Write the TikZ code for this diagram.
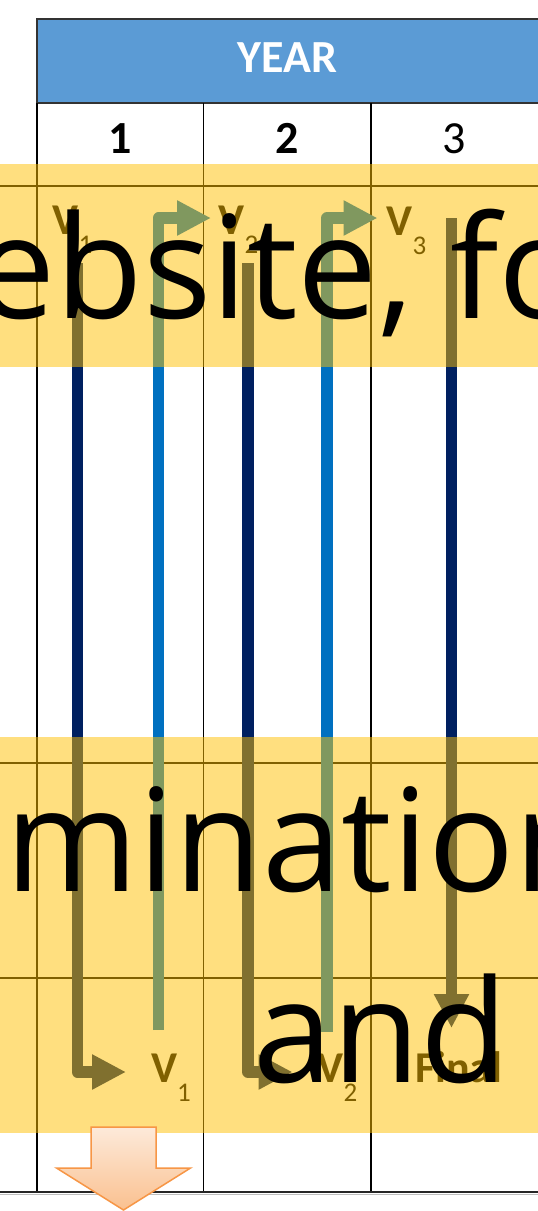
\documentclass[tikz,border=0pt]{standalone}
\usepackage{fontspec}
\setmainfont{Carlito}
\newfontfamily\bigfont{Open Sans}
\usetikzlibrary{arrows.meta}
\definecolor{navy}{HTML}{002060}
\definecolor{midblue}{HTML}{0070C0}
\definecolor{headblue}{HTML}{5B9BD5}
\definecolor{hiyellow}{HTML}{FFC000}
\definecolor{orangeline}{HTML}{F79646}
\definecolor{peachtop}{HTML}{FDEADA}
\definecolor{peachbot}{HTML}{FAC08F}
\tikzset{
  gridline/.style={black, line width=1.2pt},
  flowline/.style={line width=11.5pt, line join=round, -{Triangle[length=34pt,width=33pt]}},
  navyflow/.style={flowline, draw=navy},
  blueflow/.style={flowline, draw=midblue},
  vbig/.style={inner sep=0pt, anchor=base west, font=\fontsize{44}{46}\selectfont\bfseries},
  vsub/.style={inner sep=0pt, anchor=base west, font=\fontsize{27}{28}\selectfont},
  numtxt/.style={inner sep=0pt, anchor=base, font=\fontsize{46}{48}\selectfont},
  bigtxt/.style={inner sep=0pt, anchor=base west, text=black, font=\bigfont\fontsize{143}{150}\selectfont},
  highlight/.style={fill=hiyellow, fill opacity=0.5}
}
\begin{document}
\begin{tikzpicture}[x=1pt,y=-1pt]
\useasboundingbox (0,0) rectangle (538,1211);
\fill[white] (0,0) rectangle (538,1211);

% header
\fill[headblue] (37,19) rectangle (538,103);
\draw[line width=1.5pt, black!80] (538,19) -- (37,19) -- (37,103) -- (538,103);
\node[inner sep=0pt, anchor=base, text=white, font=\fontsize{46}{48}\selectfont\bfseries] (year) at (287.5,72) {YEAR};
\node[numtxt, font=\fontsize{46}{48}\selectfont\bfseries] (n1) at (120.25,153) {1};
\node[numtxt, font=\fontsize{46}{48}\selectfont\bfseries] (n2) at (287,153) {2};
\node[numtxt] (n3) at (454.5,153) {3};

% grid
\draw[gridline] (37,103) -- (37,1192);
\draw[gridline] (203.5,103) -- (203.5,1192);
\draw[gridline] (371,103) -- (371,1192);
\draw[gridline] (0,186) -- (538,186);
\draw[gridline] (0,763) -- (538,763);
\draw[gridline] (0,978) -- (538,978);
\draw[line width=1.5pt, black!85] (0,1192) -- (538,1192);
\draw[line width=1pt, black!25] (0,1194.5) -- (538,1194.5);

% labels
\node[vbig] (v1t) at (52.5,234) {V};
\node[vsub] (v1ts) at (78.5,253) {1};
\node[vbig] (v2t) at (218.5,234) {V};
\node[vsub] (v2ts) at (244.5,253) {2};
\node[vbig] (v3t) at (386.5,235) {V};
\node[vsub] (v3ts) at (412.5,254) {3};
\node[vbig] (v1b) at (151,1082) {V};
\node[vsub] (v1bs) at (177,1101) {1};
\node[vbig] (v2b) at (317.5,1082) {V};
\node[vsub] (v2bs) at (343.5,1101) {2};
\node[vbig] (fin) at (415,1082) {Final};

% connector coordinates
\coordinate (a1s) at (77.5,263);
\coordinate (a1c) at (77.5,1072);
\coordinate (a1e) at (126,1072);
\coordinate (b1s) at (158.7,1030);
\coordinate (b1c) at (158.7,218);
\coordinate (b1e) at (211,218);
\coordinate (a2s) at (248,263);
\coordinate (a2c) at (248,1072);
\coordinate (a2e) at (292.5,1072);
\coordinate (b2s) at (327,1032);
\coordinate (b2c) at (327,218);
\coordinate (b2e) at (377.5,218);
\coordinate (a3s) at (451.5,218);
\coordinate (a3e) at (451.5,1028);

\draw[navyflow] (a1s) -- (a1c) -- (a1e);
\draw[blueflow] (b1s) -- (b1c) -- (b1e);
\draw[navyflow] (a2s) -- (a2c) -- (a2e);
\draw[blueflow] (b2s) -- (b2c) -- (b2e);
\draw[navyflow] (a3s) -- (a3e);

% highlight bands
\fill[highlight] (0,164) rectangle (538,367);
\fill[highlight] (0,737) rectangle (538,1133);

% orange block arrow
\path[draw=orangeline, line width=1.5pt, line join=miter, top color=peachtop, bottom color=peachbot]
  (91,1127) -- (156,1127) -- (156,1168) -- (190.5,1168) -- (123.5,1210)
  -- (56.5,1168) -- (91,1168) -- cycle;

% big overlaid text
\node[bigtxt] (t1) at (-25,318) {ebsite, fo};
\node[bigtxt] (t2) at (5,891) {mination};
\node[bigtxt] (t3) at (253,1082) {and};
\end{tikzpicture}
\end{document}
